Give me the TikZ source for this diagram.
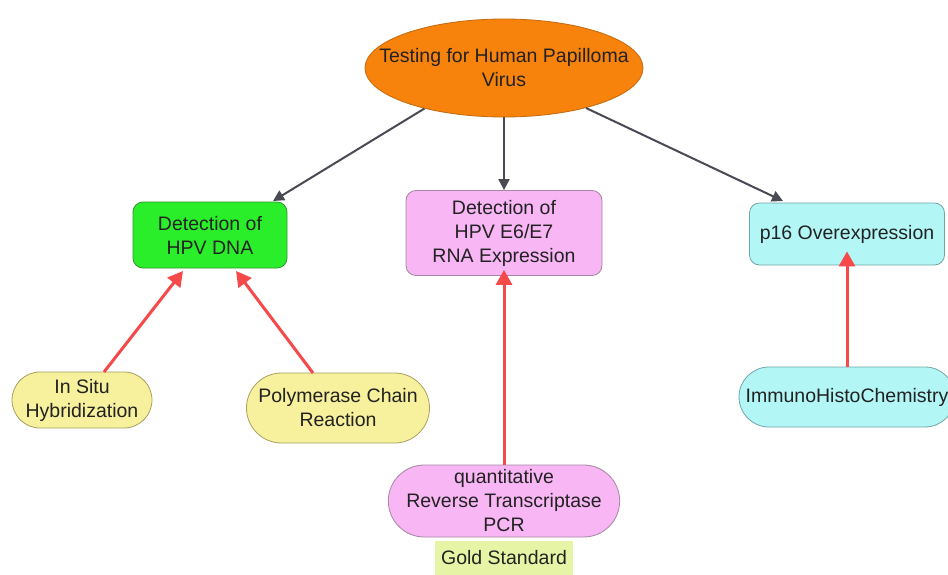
\documentclass[tikz,border=0pt]{standalone}
\usepackage{fontspec}
\setmainfont{Liberation Sans}
\usetikzlibrary{shapes.geometric,shapes.misc,arrows.meta}
\definecolor{orangefill}{HTML}{F7820C}
\definecolor{orangeline}{HTML}{C46A10}
\definecolor{greenfill}{HTML}{2AEE2A}
\definecolor{greenline}{HTML}{2E9A2E}
\definecolor{pinkfill}{HTML}{F8B6F4}
\definecolor{pinkline}{HTML}{A486A2}
\definecolor{cyanfill}{HTML}{B2F6F6}
\definecolor{cyanline}{HTML}{72A6A6}
\definecolor{yellowfill}{HTML}{F7F09C}
\definecolor{yellowline}{HTML}{A8A060}
\definecolor{goldfill}{HTML}{E6F5A5}
\definecolor{redarrow}{HTML}{F64A4A}
\definecolor{grayarrow}{HTML}{4A4A55}
\definecolor{txt}{HTML}{222222}
\tikzset{
  lbl/.style={font=\fontsize{19.5}{24}\selectfont, text=txt, align=center, inner sep=0pt},
  boxnode/.style={lbl, rectangle, rounded corners=10pt, line width=0.8pt},
  pillnode/.style={lbl, rounded rectangle, line width=0.8pt},
  grayarr/.style={draw=grayarrow, line width=2pt, -{Triangle[length=11pt,width=11pt]}},
  redarr/.style={draw=redarrow, line width=3pt, -{Triangle[length=15pt,width=16pt]}},
}
\begin{document}
\begin{tikzpicture}[x=1pt,y=-1pt]
\useasboundingbox (0,0) rectangle (948,575);
\fill[white] (0,0) rectangle (948,575);
\node[lbl, ellipse, fill=orangefill, draw=orangeline, line width=0.8pt, inner xsep=-30pt, inner ysep=8pt, minimum width=278pt, minimum height=98pt] (top) at (504,68) {Testing for Human Papilloma\\Virus};
\node[boxnode, fill=greenfill, draw=greenline, minimum width=154pt, minimum height=66pt] (dna) at (210,235) {Detection of\\HPV DNA};
\node[boxnode, fill=pinkfill, draw=pinkline, minimum width=196pt, minimum height=85pt] (rna) at (504,233) {Detection of\\HPV E6/E7\\RNA Expression};
\node[boxnode, fill=cyanfill, draw=cyanline, minimum width=195pt, minimum height=62pt] (p16) at (847,234) {p16 Overexpression};
\node[pillnode, fill=yellowfill, draw=yellowline, minimum width=140pt, minimum height=56pt] (ish) at (82,400) {In Situ\\Hybridization};
\node[pillnode, fill=yellowfill, draw=yellowline, minimum width=183pt, minimum height=70pt] (pcr) at (338,408) {Polymerase Chain\\Reaction};
\node[pillnode, fill=cyanfill, draw=cyanline, minimum width=216pt, minimum height=60pt] (ihc) at (847,397) {ImmunoHistoChemistry};
\node[pillnode, fill=pinkfill, draw=pinkline, minimum width=228pt, minimum height=72pt] (qrt) at (504,501) {quantitative\\Reverse Transcriptase\\PCR};
\node[lbl, fill=goldfill, minimum width=138pt, minimum height=34pt] (gold) at (504,558) {Gold Standard};
\coordinate (dnaA) at (273,201);
\coordinate (p16A) at (783,201);
\draw[grayarr] (top.{-153}) -- (dnaA);
\draw[grayarr] (top.south) -- (rna.north);
\draw[grayarr] (top.{-26}) -- (p16A);
\coordinate (dnaL) at (183,271);
\coordinate (dnaR) at (236,271);
\coordinate (ishT) at (104,372);
\coordinate (pcrT) at (313,373);
\draw[redarr] (ishT) -- (dnaL);
\draw[redarr] (pcrT) -- (dnaR);
\draw[redarr] (qrt.north) -- ([yshift=6pt]rna.south);
\draw[redarr] (ihc.north) -- ([yshift=14pt]p16.south);
\end{tikzpicture}
\end{document}
